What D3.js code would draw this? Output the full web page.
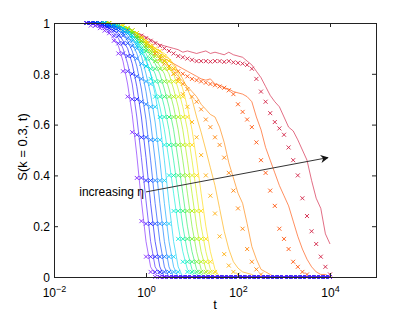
<!DOCTYPE html>
<html>
<head>
<meta charset="utf-8">
<script src="https://cdn.jsdelivr.net/npm/d3@7"></script>
<style>
  body { margin: 0; background: #fff; }
  text { font-family: "Liberation Sans", Arial, Helvetica, sans-serif; }
</style>
</head>
<body>
<script>
// sampling times shared by every curve
const times = [0.05, 0.063, 0.079, 0.1, 0.126, 0.158, 0.2, 0.251, 0.316, 0.398,
  0.501, 0.631, 0.794, 1, 1.26, 1.58, 2, 2.51, 3.16, 3.98,
  5.01, 6.31, 7.94, 10, 12.6, 15.8, 20, 25.1, 31.6, 39.8,
  50.1, 63.1, 79.4, 100, 126, 158, 200, 251, 316, 398,
  501, 631, 794, 1000, 1259, 1585, 1995, 2512, 3162, 3981,
  5012, 6310, 7943, 10000];

// S(k=0.3,t), solid lines, one row per eta (low eta first)
const lineSeries = [
  [1,1,.99,.99,.98,.96,.94,.91,.85,.76, .64,.48,.30,.14,.04,.01,0,0,0,0, 0,0,0,0,0,0,0,0,0,0, 0,0,0,0,0,0,0,0,0,0, 0,0,0,0,0,0,0,0,0,0, 0,0,0,0],
  [1,1,1,.99,.99,.98,.96,.94,.90,.84, .76,.63,.47,.30,.14,.04,.01,0,0,0, 0,0,0,0,0,0,0,0,0,0, 0,0,0,0,0,0,0,0,0,0, 0,0,0,0,0,0,0,0,0,0, 0,0,0,0],
  [1,1,1,.99,.99,.98,.97,.96,.93,.90, .84,.75,.63,.47,.29,.14,.04,0,0,0, 0,0,0,0,0,0,0,0,0,0, 0,0,0,0,0,0,0,0,0,0, 0,0,0,0,0,0,0,0,0,0, 0,0,0,0],
  [1,1,1,1,.99,.99,.98,.97,.96,.93, .89,.83,.74,.62,.46,.29,.14,.04,0,0, 0,0,0,0,0,0,0,0,0,0, 0,0,0,0,0,0,0,0,0,0, 0,0,0,0,0,0,0,0,0,0, 0,0,0,0],
  [1,1,1,1,.99,.99,.99,.98,.97,.95, .92,.88,.82,.73,.61,.46,.29,.14,.04,0, 0,0,0,0,0,0,0,0,0,0, 0,0,0,0,0,0,0,0,0,0, 0,0,0,0,0,0,0,0,0,0, 0,0,0,0],
  [1,1,1,1,1,.99,.99,.98,.98,.96, .94,.91,.87,.80,.72,.61,.46,.29,.14,.04, 0,0,0,0,0,0,0,0,0,0, 0,0,0,0,0,0,0,0,0,0, 0,0,0,0,0,0,0,0,0,0, 0,0,0,0],
  [1,1,1,1,1,.99,.99,.99,.98,.97, .95,.93,.90,.86,.80,.72,.61,.46,.29,.14, .04,0,0,0,0,0,0,0,0,0, 0,0,0,0,0,0,0,0,0,0, 0,0,0,0,0,0,0,0,0,0, 0,0,0,0],
  [1,1,1,1,.99,.99,.99,.98,.97,.96, .94,.92,.89,.85,.80,.74,.67,.58,.46,.33, .20,.10,.03,.01,0,0,0,0,0,0, 0,0,0,0,0,0,0,0,0,0, 0,0,0,0,0,0,0,0,0,0, 0,0,0,0],
  [1,1,1,1,1,.99,.99,.99,.98,.97, .95,.93,.91,.88,.84,.80,.74,.67,.58,.46, .33,.20,.10,.03,.01,0,0,0,0,0, 0,0,0,0,0,0,0,0,0,0, 0,0,0,0,0,0,0,0,0,0, 0,0,0,0],
  [1,1,1,1,1,.99,.99,.99,.98,.97, .96,.94,.92,.90,.87,.84,.80,.74,.67,.58, .46,.33,.20,.10,.03,.01,0,0,0,0, 0,0,0,0,0,0,0,0,0,0, 0,0,0,0,0,0,0,0,0,0, 0,0,0,0],
  [1,1,1,1,1,1,.99,.99,.98,.98, .97,.95,.93,.91,.89,.86,.83,.80,.74,.67, .58,.46,.33,.20,.10,.03,.01,0,0,0, 0,0,0,0,0,0,0,0,0,0, 0,0,0,0,0,0,0,0,0,0, 0,0,0,0],
  [1,1,1,1,1,1,.99,.99,.98,.98, .97,.95,.94,.92,.90,.88,.86,.83,.80,.74, .67,.58,.46,.33,.20,.10,.03,.01,0,0, 0,0,0,0,0,0,0,0,0,0, 0,0,0,0,0,0,0,0,0,0, 0,0,0,0],
  [1,1,1,1,1,1,.99,.99,.99,.98, .97,.96,.94,.92,.91,.89,.88,.86,.83,.80, .74,.67,.58,.46,.33,.20,.10,.03,.01,0, 0,0,0,0,0,0,0,0,0,0, 0,0,0,0,0,0,0,0,0,0, 0,0,0,0],
  [1,1,1,1,1,1,.99,.99,.99,.98, .97,.96,.94,.93,.91,.90,.89,.88,.86,.83, .80,.74,.67,.58,.46,.33,.20,.10,.03,0, 0,0,0,0,0,0,0,0,0,0, 0,0,0,0,0,0,0,0,0,0, 0,0,0,0],
  [1,1,1,1,1,1,.99,.99,.98,.98, .97,.96,.95,.93,.92,.90,.89,.87,.86,.84, .81,.78,.74,.70,.63,.57,.50,.43,.36,.27, .18,.11,.06,.035,.02,.015,.01,0,0,0, 0,0,0,0,0,0,0,0,0,0, 0,0,0,0],
  [1,1,1,1,1,1,.99,.99,.98,.97, .96,.95,.94,.92,.91,.89,.87,.85,.83,.81, .79,.77,.75,.73,.71,.68,.66,.64,.63,.59, .53,.45,.39,.33,.29,.21,.12,.07,.03,.02, .01,0,0,0,0,0,0,0,0,0, 0,0,0,0],
  [1,1,1,1,1,1,.99,.99,.98,.97, .96,.95,.94,.92,.91,.89,.88,.86,.85,.84, .83,.82,.81,.80,.79,.78,.775,.78,.76,.755, .745,.74,.73,.725,.72,.71,.69,.63,.58,.51, .46,.41,.36,.32,.28,.22,.16,.11,.07,.04, .02,.01,.01,0],
  [1,1,1,1,1,.99,.99,.985,.98,.97, .965,.96,.955,.945,.935,.925,.915,.91,.905,.90, .895,.885,.89,.885,.88,.885,.89,.88,.885,.88, .875,.885,.875,.87,.865,.85,.835,.81,.785,.75, .715,.69,.67,.63,.59,.575,.54,.50,.46,.38, .31,.27,.17,.13]
];

// S(k=0.3,t), x markers, same eta order
const markerSeries = [
  [1,.99,.99,.98,.97,.96,.93,.88,.81,.71, .57,.39,.22,.08,.02,0,0,0,0,0, 0,0,0,0,0,0,0,0,0,0, 0,0,0,0,0,0,0,0,0,0, 0,0,0,0,0,0,0,0,0,0, 0,0,0,0],
  [1,1,.99,.99,.98,.97,.95,.92,.88,.81, .70,.56,.39,.21,.08,.02,0,0,0,0, 0,0,0,0,0,0,0,0,0,0, 0,0,0,0,0,0,0,0,0,0, 0,0,0,0,0,0,0,0,0,0, 0,0,0,0],
  [1,1,1,.99,.99,.98,.97,.95,.92,.87, .80,.70,.55,.38,.21,.08,.02,0,0,0, 0,0,0,0,0,0,0,0,0,0, 0,0,0,0,0,0,0,0,0,0, 0,0,0,0,0,0,0,0,0,0, 0,0,0,0],
  [1,1,1,1,.99,.99,.98,.97,.95,.92, .87,.79,.69,.55,.38,.21,.08,.02,0,0, 0,0,0,0,0,0,0,0,0,0, 0,0,0,0,0,0,0,0,0,0, 0,0,0,0,0,0,0,0,0,0, 0,0,0,0],
  [1,1,1,1,.99,.99,.99,.98,.96,.94, .91,.86,.78,.68,.54,.38,.21,.08,.02,0, 0,0,0,0,0,0,0,0,0,0, 0,0,0,0,0,0,0,0,0,0, 0,0,0,0,0,0,0,0,0,0, 0,0,0,0],
  [1,1,1,1,1,.99,.99,.98,.97,.96, .93,.90,.84,.77,.67,.54,.38,.21,.08,.02, 0,0,0,0,0,0,0,0,0,0, 0,0,0,0,0,0,0,0,0,0, 0,0,0,0,0,0,0,0,0,0, 0,0,0,0],
  [1,1,1,1,1,.99,.99,.99,.98,.97, .95,.92,.89,.83,.76,.67,.54,.38,.21,.08, .02,0,0,0,0,0,0,0,0,0, 0,0,0,0,0,0,0,0,0,0, 0,0,0,0,0,0,0,0,0,0, 0,0,0,0],
  [1,1,1,1,.99,.99,.99,.98,.97,.96, .94,.91,.88,.83,.78,.71,.63,.52,.40,.26, .15,.06,.02,0,0,0,0,0,0,0, 0,0,0,0,0,0,0,0,0,0, 0,0,0,0,0,0,0,0,0,0, 0,0,0,0],
  [1,1,1,1,1,.99,.99,.98,.98,.97, .95,.93,.90,.86,.82,.77,.71,.63,.52,.40, .26,.15,.06,.02,0,0,0,0,0,0, 0,0,0,0,0,0,0,0,0,0, 0,0,0,0,0,0,0,0,0,0, 0,0,0,0],
  [1,1,1,1,1,.99,.99,.99,.98,.97, .96,.94,.92,.89,.86,.82,.77,.71,.63,.52, .40,.26,.15,.06,.02,0,0,0,0,0, 0,0,0,0,0,0,0,0,0,0, 0,0,0,0,0,0,0,0,0,0, 0,0,0,0],
  [1,1,1,1,1,.99,.99,.99,.98,.97, .96,.95,.93,.90,.88,.85,.82,.77,.71,.63, .52,.40,.26,.15,.06,.02,0,0,0,0, 0,0,0,0,0,0,0,0,0,0, 0,0,0,0,0,0,0,0,0,0, 0,0,0,0],
  [1,1,1,1,1,1,.99,.99,.98,.98, .97,.95,.93,.91,.89,.87,.85,.82,.77,.71, .63,.52,.40,.26,.15,.06,.02,0,0,0, 0,0,0,0,0,0,0,0,0,0, 0,0,0,0,0,0,0,0,0,0, 0,0,0,0],
  [1,1,1,1,1,1,.99,.99,.99,.98, .97,.96,.94,.92,.90,.89,.87,.85,.82,.77, .71,.63,.52,.40,.26,.15,.06,.02,0,0, 0,0,0,0,0,0,0,0,0,0, 0,0,0,0,0,0,0,0,0,0, 0,0,0,0],
  [1,1,1,1,1,1,.99,.99,.99,.98, .97,.96,.94,.93,.91,.90,.89,.87,.85,.82, .77,.71,.63,.52,.40,.26,.15,.06,.02,0, 0,0,0,0,0,0,0,0,0,0, 0,0,0,0,0,0,0,0,0,0, 0,0,0,0],
  [1,1,1,1,1,1,.99,.99,.98,.97, .96,.95,.94,.92,.91,.89,.87,.85,.83,.80, .77,.72,.67,.61,.55,.48,.40,.32,.25,.16, .09,.045,.02,.01,0,0,0,0,0,0, 0,0,0,0,0,0,0,0,0,0, 0,0,0,0],
  [1,1,1,1,1,1,.99,.99,.98,.97, .96,.95,.93,.92,.90,.88,.86,.84,.82,.80, .78,.76,.74,.71,.69,.66,.62,.59,.55,.52, .47,.41,.34,.27,.19,.11,.06,.03,.01,0, 0,0,0,0,0,0,0,0,0,0, 0,0,0,0],
  [1,1,1,1,1,1,.99,.99,.98,.97, .96,.94,.93,.91,.90,.88,.86,.85,.83,.82, .81,.80,.79,.78,.775,.77,.765,.76,.755,.75, .745,.735,.72,.68,.65,.62,.59,.53,.46,.41, .34,.28,.19,.15,.11,.06,.04,.02,.01,0, 0,0,0,0],
  [1,1,1,1,1,.99,.99,.985,.98,.975, .97,.96,.95,.94,.93,.92,.91,.90,.89,.88, .87,.865,.86,.855,.85,.85,.85,.848,.85,.85, .847,.85,.845,.843,.84,.835,.82,.78,.73,.69, .645,.61,.585,.56,.51,.46,.40,.31,.24,.18, .13,.08,.04,.01]
];

const xTicks = [1e-2, 1e0, 1e2, 1e4];
const xTickExponents = ['\u22122', '0', '2', '4'];
const yTicks = [0, 0.2, 0.4, 0.6, 0.8, 1];
const yTickLabels = ['0', '0.2', '0.4', '0.6', '0.8', '1'];
const arrowFrom = [1.0, 0.335];
const arrowTo = [9000, 0.47];
const arrowText = 'increasing \u03b7';

// low eta -> high eta
const colors = ['#7a1cff', '#3a18ff', '#0008ff', '#0040ff', '#0072ff', '#00a2ff',
  '#00cff5', '#00eed8', '#00f09a', '#22ee5c', '#6cee22', '#aaee00',
  '#dcec00', '#ffd800', '#ffaa00', '#ff7f00', '#ff4c00', '#d0183c'];

const w = 415;
const h = 314;
const margin = {top: 23, right: 39, bottom: 37, left: 54};

const x = d3.scaleLog().domain([1e-2, 1e5]).range([margin.left, w - margin.right]);
const y = d3.scaleLinear().domain([0, 1]).range([h - margin.bottom, margin.top]);

const svg = d3.select('body')
  .append('svg')
  .attr('width', w)
  .attr('height', h)
  .style('display', 'block');

svg.append('defs').append('marker')
  .attr('id', 'head')
  .attr('viewBox', '0 0 10 10')
  .attr('refX', 9)
  .attr('refY', 5)
  .attr('markerWidth', 11)
  .attr('markerHeight', 8)
  .attr('markerUnits', 'userSpaceOnUse')
  .attr('orient', 'auto')
  .append('path')
  .attr('d', 'M0,0L10,5L0,10L3,5Z')
  .attr('fill', '#111');

const line = d3.line()
  .x((d, k) => x(times[k]))
  .y(d => y(d));

const cross = 'M-2,-2L2,2M-2,2L2,-2';

// slow (red) curves at the back, fast (violet) ones on top
const plot = svg.append('g');
for (let i = lineSeries.length - 1; i >= 0; i--) {
  const g = plot.append('g');
  g.append('path')
    .datum(lineSeries[i])
    .attr('d', line)
    .attr('fill', 'none')
    .attr('stroke', colors[i])
    .attr('stroke-opacity', 0.7)
    .attr('stroke-width', 0.9);
  g.selectAll('path.mk')
    .data(markerSeries[i])
    .enter()
    .append('path')
    .attr('class', 'mk')
    .attr('transform', (d, k) => `translate(${x(times[k])},${y(d)})`)
    .attr('d', cross)
    .attr('stroke', colors[i])
    .attr('stroke-opacity', 0.85)
    .attr('stroke-width', 1)
    .attr('fill', 'none');
}

// axes, ticks pointing inward on all four sides
const axisColor = '#222';
const xb = svg.append('g')
  .attr('transform', `translate(0,${y(0)})`)
  .call(d3.axisBottom(x).tickValues(xTicks).tickSizeInner(-4).tickSizeOuter(0).tickFormat(''));
const xt = svg.append('g')
  .attr('transform', `translate(0,${y(1)})`)
  .call(d3.axisTop(x).tickValues(xTicks).tickSizeInner(-4).tickSizeOuter(0).tickFormat(''));
const yl = svg.append('g')
  .attr('transform', `translate(${x(1e-2)},0)`)
  .call(d3.axisLeft(y).tickValues(yTicks).tickSizeInner(-4).tickSizeOuter(0).tickFormat(''));
const yr = svg.append('g')
  .attr('transform', `translate(${x(1e5)},0)`)
  .call(d3.axisRight(y).tickValues(yTicks).tickSizeInner(-4).tickSizeOuter(0).tickFormat(''));

[xb, xt, yl, yr].forEach(a => {
  a.select('.domain').attr('stroke', axisColor).attr('shape-rendering', 'crispEdges');
  a.selectAll('.tick line').attr('stroke', axisColor);
});

xb.selectAll('.tick')
  .append('text')
  .attr('y', 20)
  .attr('fill', '#000')
  .attr('font-size', 12)
  .attr('text-anchor', 'middle')
  .each(function(d, i) {
    const t = d3.select(this);
    t.append('tspan').text('10');
    t.append('tspan').attr('dy', -5).attr('font-size', 9).text(xTickExponents[i]);
  });

yl.selectAll('.tick')
  .append('text')
  .attr('x', -4)
  .attr('dy', '0.35em')
  .attr('fill', '#000')
  .attr('font-size', 12)
  .attr('text-anchor', 'end')
  .text((d, i) => yTickLabels[i]);

svg.append('text')
  .attr('transform', `translate(27,${(y(0) + y(1)) / 2 - 3}) rotate(-90)`)
  .attr('text-anchor', 'middle')
  .attr('font-size', 13)
  .attr('fill', '#000')
  .text('S(k = 0.3, t)');

svg.append('text')
  .attr('x', (x(1e-2) + x(1e5)) / 2)
  .attr('y', 309)
  .attr('text-anchor', 'middle')
  .attr('font-size', 13)
  .attr('fill', '#000')
  .text('t');

// annotation arrow
svg.append('line')
  .attr('x1', x(arrowFrom[0]))
  .attr('y1', y(arrowFrom[1]))
  .attr('x2', x(arrowTo[0]))
  .attr('y2', y(arrowTo[1]))
  .attr('stroke', '#333')
  .attr('stroke-width', 1)
  .attr('marker-end', 'url(#head)');

svg.append('text')
  .attr('x', x(arrowFrom[0]) - 2)
  .attr('y', y(arrowFrom[1]) + 4)
  .attr('text-anchor', 'end')
  .attr('font-size', 12)
  .attr('fill', '#000')
  .text(arrowText);
</script>
</body>
</html>
